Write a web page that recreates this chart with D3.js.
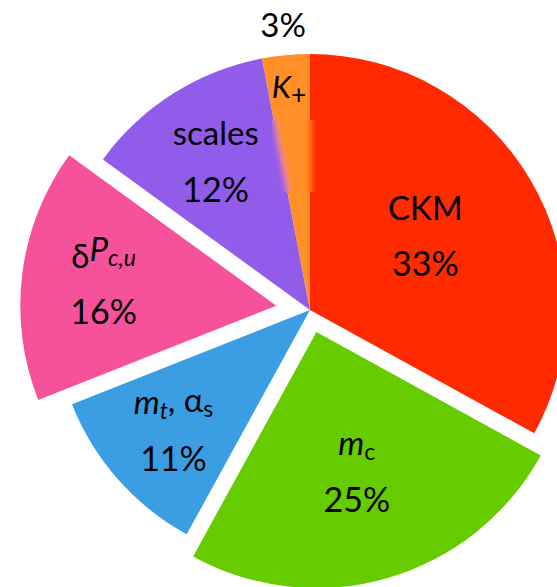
<!DOCTYPE html>
<html><head>
<meta charset="utf-8">
<script src="https://d3js.org/d3.v7.min.js"></script>
<style>
  body { margin: 0; background: #fff; }
  text { font-family: Lato, "Open Sans", sans-serif; fill: #000; }
</style>
</head>
<body>
<svg id="pie" width="557" height="587"></svg>
<script>
// slice data, clockwise from 12 o'clock
const names   = ["CKM", "m_c", "m_t, alpha_s", "dP_cu", "scales", "K_+"];
const shares  = [33, 25, 11, 16, 12, 3];
const colours = ["#ff2a00", "#66cc00", "#3c9ee2", "#f6519b", "#925ceb", "#ff8f26"];

// rich label pieces: [text, italic?, subscript?]
const labelParts = [
  [["CKM", 0, 0]],
  [["m", 1, 0], ["c", 0, 1]],
  [["m", 1, 0], ["t", 1, 1], [", α", 0, 0], ["s", 0, 1]],
  [["δ", 0, 0], ["P", 1, 0], ["c,u", 1, 1]],
  [["scales", 0, 0]],
  [["K", 1, 0], ["+", 0, 1]]
];

const svg = d3.select("#pie");
const cx = 310, cy = 310, R = 256;
const pull   = [0, 23, 0, 34, 0, 0];        // exploded slices
const labelR = [134, 145, 182, 174, 176, 224];
const shiftY = [-6, 0, 0, 0, 0, 0];

const pie = d3.pie().sort(null).value(d => d);
const arcs = pie(shares);
const arc = d3.arc().innerRadius(0).outerRadius(R);

const g = svg.append("g").attr("transform", "translate(" + cx + "," + cy + ")");

function dir(a) { const m = (a.startAngle + a.endAngle) / 2; return [Math.sin(m), -Math.cos(m)]; }

g.selectAll("path.slice").data(arcs).enter().append("path")
  .attr("class", "slice")
  .attr("d", arc)
  .attr("fill", (d, i) => colours[i])
  .attr("transform", (d, i) => { const u = dir(d); return "translate(" + u[0]*pull[i] + "," + u[1]*pull[i] + ")"; });

// smeared strip near the top (as in the source image)
const defs = svg.append("defs");
defs.append("filter").attr("id", "smear").attr("x", "-50%").attr("width", "200%")
  .append("feGaussianBlur").attr("stdDeviation", "3 0");
defs.append("clipPath").attr("id", "strip").append("rect")
  .attr("x", 272 - cx).attr("y", 120 - cy).attr("width", 46).attr("height", 72);
g.append("g").attr("clip-path", "url(#strip)")
  .append("g").attr("filter", "url(#smear)")
  .selectAll("path").data(arcs.slice(4).concat(arcs.slice(0, 1))).enter().append("path")
  .attr("d", arc)
  .attr("fill", d => colours[d.index]);

// labels
const gap = 28;
arcs.forEach((d, i) => {
  const u = dir(d);
  const x = u[0] * (labelR[i] + pull[i]);
  const y = u[1] * (labelR[i] + pull[i]) + shiftY[i];
  const small = i === 5;
  const t = g.append("text")
    .attr("x", x)
    .attr("y", small ? y : y - gap)
    .attr("dy", "0.36em")
    .attr("text-anchor", "middle")
    .style("font-size", small ? "31px" : "33px");
  labelParts[i].forEach(p => {
    const s = t.append("tspan").text(p[0]).style("font-style", p[1] ? "italic" : "normal");
    if (p[2]) s.attr("dy", "0.22em").style("font-size", small ? "0.85em" : "0.7em");
    else if (t.selectAll("tspan").size() > 1) s.attr("dy", "-0.22em");
  });
  if (!small) {
    g.append("text")
      .attr("x", x).attr("y", y + gap).attr("dy", "0.36em")
      .attr("text-anchor", "middle")
      .style("font-size", "34px")
      .text(shares[i] + "%");
  }
});

// the tiny slice gets its percentage outside the pie
const k = arcs[5], uk = dir(k);
g.append("text")
  .attr("x", uk[0] * 286).attr("y", uk[1] * 286).attr("dy", "0.36em")
  .attr("text-anchor", "middle")
  .style("font-size", "33px")
  .text(shares[5] + "%");
</script>
</body></html>
